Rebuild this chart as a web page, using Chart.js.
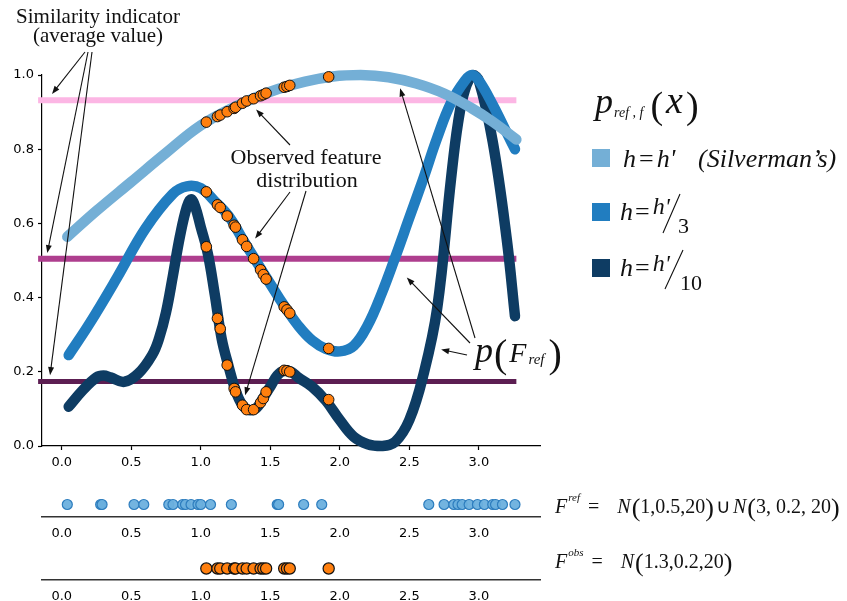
<!DOCTYPE html>
<html>
<head>
<meta charset="utf-8">
<script src="https://cdn.jsdelivr.net/npm/chart.js@4.4.0/dist/chart.umd.min.js"></script>
<style>
  body { margin: 0; background: #fff; width: 847px; height: 601px; overflow: hidden; position: relative; }
  canvas { position: absolute; left: 0; }
</style>
</head>
<body>
<canvas id="main" width="847" height="601" style="top:0"></canvas>
<canvas id="refStrip" width="847" height="65" style="top:479px"></canvas>
<canvas id="obsStrip" width="847" height="56" style="top:544px"></canvas>
<script>
// axis ticks
const xTicks = [0.0, 0.5, 1.0, 1.5, 2.0, 2.5, 3.0];
const yTicks = [0.0, 0.2, 0.4, 0.6, 0.8, 1.0];

// KDE of F_ref, h = h' (Silverman)
const lightX = [0.04, 0.25, 0.5, 0.75, 1.0, 1.25, 1.5, 1.75, 1.95, 2.15, 2.35, 2.55, 2.75, 2.95, 3.1, 3.27];
const lightY = [0.564, 0.634, 0.712, 0.79, 0.864, 0.915, 0.955, 0.982, 0.996, 1.0, 0.994, 0.977, 0.95, 0.91, 0.874, 0.826];

// KDE of F_ref, h = h'/3
const midX = [0.05, 0.2, 0.4, 0.6, 0.8, 0.9, 1.0, 1.1, 1.2, 1.3, 1.4, 1.5, 1.6, 1.7, 1.8, 1.9, 2.0, 2.1, 2.2, 2.3, 2.4, 2.5, 2.6, 2.7, 2.8, 2.9, 2.95, 3.0, 3.1, 3.2, 3.26];
const midY = [0.245, 0.33, 0.455, 0.585, 0.68, 0.70, 0.695, 0.66, 0.62, 0.558, 0.497, 0.437, 0.378, 0.325, 0.285, 0.262, 0.255, 0.27, 0.325, 0.41, 0.51, 0.615, 0.72, 0.83, 0.925, 0.985, 1.0, 0.985, 0.92, 0.845, 0.80];

// KDE of F_ref, h = h'/10
const darkX = [0.05, 0.15, 0.25, 0.3, 0.35, 0.45, 0.55, 0.65, 0.7, 0.75, 0.8, 0.85, 0.9, 0.93, 0.96, 1.0, 1.05, 1.1, 1.15, 1.2, 1.25, 1.3, 1.35, 1.4, 1.45, 1.5, 1.55, 1.6, 1.65, 1.7, 1.8, 1.9, 2.0, 2.1, 2.2, 2.3, 2.4, 2.5, 2.6, 2.7, 2.8, 2.85, 2.9, 2.96, 3.0, 3.1, 3.2, 3.26];
const darkY = [0.106, 0.15, 0.185, 0.19, 0.185, 0.173, 0.195, 0.245, 0.29, 0.36, 0.46, 0.565, 0.645, 0.665, 0.645, 0.59, 0.52, 0.41, 0.29, 0.215, 0.15, 0.11, 0.097, 0.102, 0.13, 0.16, 0.19, 0.203, 0.20, 0.185, 0.16, 0.122, 0.07, 0.025, 0.005, 0.0, 0.012, 0.07, 0.19, 0.37, 0.72, 0.87, 0.96, 1.0, 0.985, 0.82, 0.56, 0.35];

// reference sample F_ref and observed sample F_obs
const refSample = [0.04, 0.28, 0.29, 0.52, 0.59, 0.77, 0.80, 0.87, 0.89, 0.93, 0.98, 1.0, 1.07, 1.22, 1.55, 1.56, 1.74, 1.87,
                   2.64, 2.75, 2.82, 2.85, 2.88, 2.93, 2.99, 3.04, 3.10, 3.12, 3.17, 3.26];
const obsSample = [1.04, 1.12, 1.14, 1.19, 1.24, 1.25, 1.30, 1.33, 1.38, 1.43, 1.45, 1.47, 1.60, 1.62, 1.64, 1.92];

// density of each observed value under the three estimates
const obsOnLight = [0.873, 0.888, 0.892, 0.901, 0.910, 0.913, 0.924, 0.930, 0.936, 0.944, 0.947, 0.951, 0.967, 0.969, 0.972, 0.995];
const obsOnMid = [0.685, 0.650, 0.643, 0.620, 0.595, 0.590, 0.556, 0.538, 0.505, 0.475, 0.462, 0.450, 0.375, 0.367, 0.358, 0.263];
const obsOnDark = [0.537, 0.344, 0.316, 0.218, 0.155, 0.146, 0.110, 0.098, 0.098, 0.117, 0.128, 0.146, 0.204, 0.203, 0.200, 0.125];

// similarity indicator (average density) per bandwidth
const simLevels = [0.932, 0.505, 0.174];
const simSpan = [-0.17, 3.27];

const X_MIN = -0.142, X_MAX = 3.44;
const LIGHT = 'rgb(116,175,214)', MID = 'rgb(33,125,192)', DARK = 'rgb(14,60,99)';
const SIM_COLORS = ['rgb(252,182,228)', 'rgb(174,62,142)', 'rgb(92,30,82)'];
const ORANGE = 'rgb(255,127,14)';
const tickFont = { family: 'DejaVu Sans', size: 13 };

function pts(xs, ys) {
  return xs.map((x, i) => ({ x: x, y: ys[i] }));
}

function xAxis(drawTicks, pad) {
  return {
    type: 'linear', min: X_MIN, max: X_MAX,
    afterBuildTicks: s => { s.ticks = xTicks.map(v => ({ value: v })); },
    ticks: { callback: v => v.toFixed(1), font: tickFont, color: '#000', padding: pad, maxRotation: 0, autoSkip: false },
    grid: { drawOnChartArea: false, drawTicks: drawTicks, tickLength: 4, color: '#000', tickWidth: 1.2 },
    border: { color: drawTicks ? '#000' : '#333', width: drawTicks ? 1.2 : 1.6 }
  };
}

function curve(xs, ys, color, order) {
  return {
    type: 'line', data: pts(xs, ys), borderColor: color, borderWidth: 10.5,
    borderCapStyle: 'round', borderJoinStyle: 'round', tension: 0.4,
    pointRadius: 0, clip: false, order: order
  };
}

function dots(ys, order) {
  return {
    type: 'scatter', data: pts(obsSample, ys), backgroundColor: ORANGE, borderColor: '#111',
    borderWidth: 1, pointRadius: 5.3, clip: false, order: order
  };
}

const simSets = simLevels.map((v, i) => ({
  type: 'line', data: pts(simSpan, [v, v]), borderColor: SIM_COLORS[i], borderWidth: i === 2 ? 5 : 6,
  pointRadius: 0, clip: false, order: 10
}));

// text, arrows and math labels around the plot
function serif(ctx, size, italic) {
  ctx.font = (italic ? 'italic ' : '') + size + 'px "Liberation Serif"';
}

function arrow(ctx, x1, y1, x2, y2) {
  const a = Math.atan2(y2 - y1, x2 - x1);
  ctx.beginPath();
  ctx.moveTo(x1, y1);
  ctx.lineTo(x2 - 6 * Math.cos(a), y2 - 6 * Math.sin(a));
  ctx.stroke();
  ctx.beginPath();
  ctx.moveTo(x2, y2);
  ctx.lineTo(x2 - 8 * Math.cos(a) + 3 * Math.sin(a), y2 - 8 * Math.sin(a) - 3 * Math.cos(a));
  ctx.lineTo(x2 - 8 * Math.cos(a) - 3 * Math.sin(a), y2 - 8 * Math.sin(a) + 3 * Math.cos(a));
  ctx.closePath();
  ctx.fill();
}

// runs of [text, size, italic, dy, gap]; returns the end x
function runs(ctx, x, y, parts) {
  ctx.textAlign = 'left';
  parts.forEach(p => {
    serif(ctx, p[1], p[2]);
    ctx.fillText(p[0], x, y + (p[3] || 0));
    x += ctx.measureText(p[0]).width + (p[4] || 0);
  });
  return x;
}

const notes = {
  id: 'notes',
  afterDraw(chart) {
    const ctx = chart.ctx;
    const sx = chart.scales.x, sy = chart.scales.y;
    const P = (x, y) => [sx.getPixelForValue(x), sy.getPixelForValue(y)];
    ctx.save();
    ctx.fillStyle = '#111';
    ctx.strokeStyle = '#111';
    ctx.lineWidth = 1.1;

    serif(ctx, 21, false);
    ctx.textAlign = 'center';
    ctx.fillText('Similarity indicator', 98, 23);
    ctx.fillText('(average value)', 98, 42);
    serif(ctx, 22, false);
    ctx.fillText('Observed feature', 306, 164);
    ctx.fillText('distribution', 307, 187);

    let t;
    t = P(-0.07, 0.949); arrow(ctx, 85, 52, t[0], t[1]);
    t = P(-0.104, 0.52); arrow(ctx, 88, 52, t[0], t[1]);
    t = P(-0.084, 0.191); arrow(ctx, 92, 52, t[0], t[1]);
    t = P(1.398, 0.907); arrow(ctx, 290, 145, t[0], t[1]);
    t = P(1.391, 0.559); arrow(ctx, 290, 192, t[0], t[1]);
    t = P(1.319, 0.137); arrow(ctx, 306, 191, t[0], t[1]);
    t = P(2.434, 0.964); arrow(ctx, 475, 338, t[0], t[1]);
    t = P(2.482, 0.454); arrow(ctx, 470, 343, t[0], t[1]);
    t = P(2.729, 0.26); arrow(ctx, 467, 355, t[0], t[1]);

    // p(F_ref)
    runs(ctx, 475, 362, [['p', 36, true, 0, 1], ['(', 40, false, 5, 2], ['F', 28, true, 0, 2], ['ref', 15, true, 2, 4], [')', 40, false, 5]]);

    // legend title p_ref,f(x)
    runs(ctx, 595, 113, [['p', 36, true, 0, 1], ['ref , f', 14, true, 4, 7], ['(', 38, false, 5, 3], ['x', 38, true, 0, 3], [')', 38, false, 5]]);

    // legend entries
    const sw = [[LIGHT, 149], [MID, 203], [DARK, 259]];
    sw.forEach(s => { ctx.fillStyle = s[0]; ctx.fillRect(592, s[1], 18, 18); });
    ctx.fillStyle = '#111';
    runs(ctx, 623, 167, [['h', 26, true, 0, 3], ['=', 26, false, 0, 3], ["h'", 26, true, 0]]);
    runs(ctx, 698, 167, [['(Silverman’s)', 26, true, 0]]);
    runs(ctx, 620, 220, [['h', 26, true, 0, 2], ['=', 26, false, 0, 3], ["h'", 24, true, -6]]);
    runs(ctx, 678, 233, [['3', 22, false]]);
    runs(ctx, 620, 276, [['h', 26, true, 0, 2], ['=', 26, false, 0, 3], ["h'", 24, true, -5]]);
    runs(ctx, 680, 290, [['10', 22, false]]);
    ctx.beginPath();
    ctx.moveTo(663, 233); ctx.lineTo(680, 194);
    ctx.moveTo(665, 289); ctx.lineTo(683, 250);
    ctx.stroke();

    // sample definitions
    runs(ctx, 555, 513, [['F', 20, true, 0, 1], ['ref', 11, true, -12, 8], ['=', 20, false, 0, 18], ['N', 20, true, 0, 1],
      ['(', 26, false, 3], ['1,0.5,20', 20, false], [')', 26, false, 3, 2], ['∪', 20, false, 0, 2], ['N', 20, true, 0, 1],
      ['(', 26, false, 3], ['3, 0.2, 20', 20, false], [')', 26, false, 3]]);
    runs(ctx, 555, 568, [['F', 20, true, 0, 1], ['obs', 11, true, -12, 8], ['=', 20, false, 0, 18], ['N', 20, true, 0, 1],
      ['(', 26, false, 3], ['1.3,0.2,20', 20, false], [')', 26, false, 3]]);
    ctx.restore();
  }
};

new Chart(document.getElementById('main'), {
  data: {
    datasets: [
      dots(obsOnLight, 0), dots(obsOnMid, 0), dots(obsOnDark, 0),
      curve(lightX, lightY, LIGHT, 1),
      curve(midX, midY, MID, 2),
      curve(darkX, darkY, DARK, 3)
    ].concat(simSets)
  },
  options: {
    responsive: false, animation: false, devicePixelRatio: 1,
    layout: { padding: { left: 0, right: 307, top: 75, bottom: 0 } },
    plugins: { legend: { display: false }, tooltip: { enabled: false } },
    scales: {
      x: Object.assign(xAxis(true, 5), { afterFit: s => { s.height = 155; } }),
      y: {
        min: 0, max: 1,
        afterBuildTicks: s => { s.ticks = yTicks.map(v => ({ value: v })); },
        afterFit: s => { s.width = 42; },
        ticks: { callback: v => v.toFixed(1), font: tickFont, color: '#000', padding: 4 },
        grid: { drawOnChartArea: false, tickLength: 4, color: '#000', tickWidth: 1.2 },
        border: { color: '#000', width: 1.2 }
      }
    }
  },
  plugins: [notes]
});

function strip(id, values, fill, edge, radius, top, axisH) {
  return new Chart(document.getElementById(id), {
    type: 'scatter',
    data: { datasets: [{ data: values.map(v => ({ x: v, y: 0.5 })), backgroundColor: fill, borderColor: edge,
      borderWidth: 1.2, pointRadius: radius, clip: false }] },
    options: {
      responsive: false, animation: false, devicePixelRatio: 1,
      layout: { padding: { left: 42, right: 307, top: top, bottom: 0 } },
      plugins: { legend: { display: false }, tooltip: { enabled: false } },
      scales: {
        x: Object.assign(xAxis(false, 9), { afterFit: s => { s.height = axisH; } }),
        y: { display: false, min: 0, max: 1 }
      }
    }
  });
}

strip('refStrip', refSample, 'rgba(108,176,222,0.95)', 'rgb(45,125,190)', 5, 13, 27);
strip('obsStrip', obsSample, ORANGE, '#111', 5.6, 13, 20);
</script>
</body>
</html>
